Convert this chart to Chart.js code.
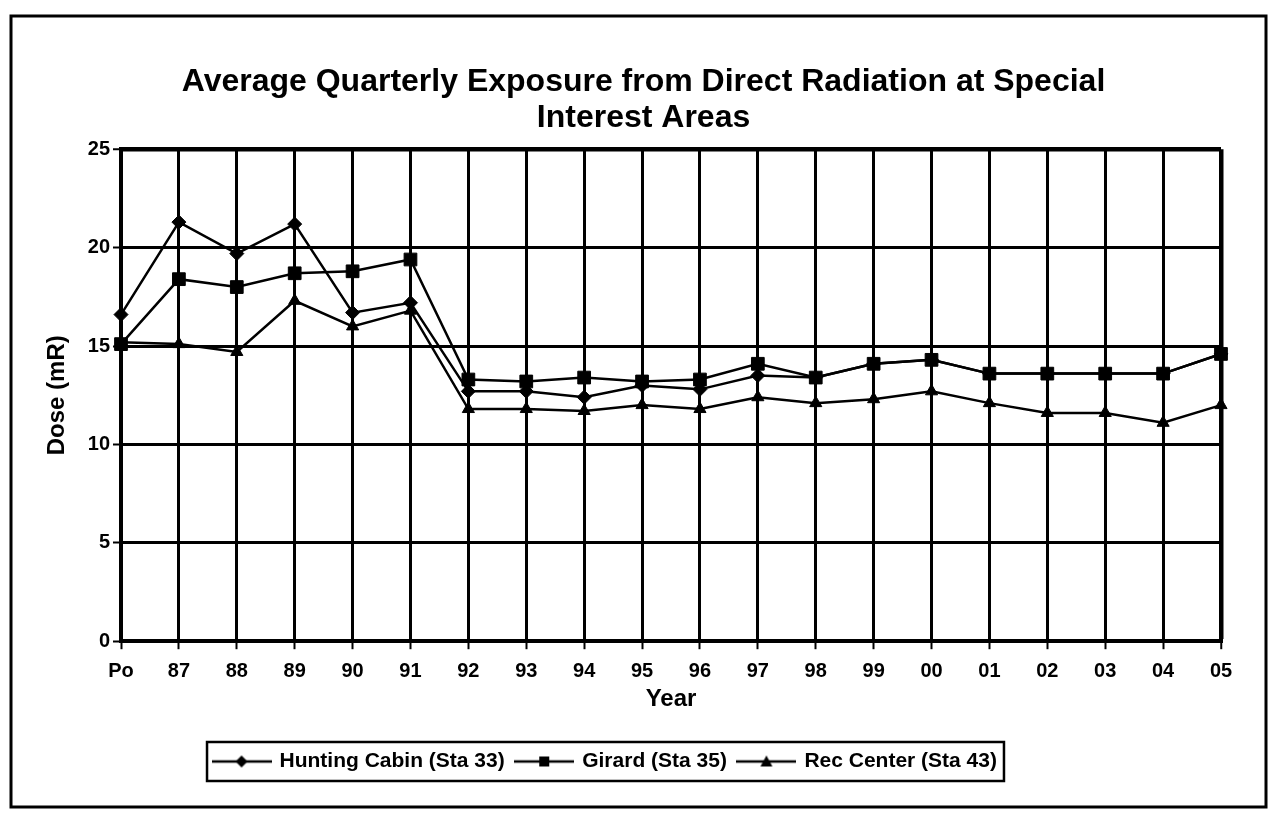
<!DOCTYPE html>
<html>
<head>
<meta charset="utf-8">
<title>Average Quarterly Exposure</title>
<script src="https://cdn.jsdelivr.net/npm/chart.js@4.4.1/dist/chart.umd.min.js"></script>
<style>
    html, body { margin: 0; padding: 0; background: #fff; }
    #grafico { display: block; }
</style>
</head>
<body>
<canvas id="grafico" width="1272" height="813"></canvas>
<script>
// dados
const anos = ['Po', '87', '88', '89', '90', '91', '92', '93', '94', '95',
    '96', '97', '98', '99', '00', '01', '02', '03', '04', '05'];
const huntingCabin = [16.6, 21.3, 19.7, 21.2, 16.7, 17.2, 12.7, 12.7, 12.4, 13.0,
    12.8, 13.5, 13.4, 14.1, 14.3, 13.6, 13.6, 13.6, 13.6, 14.6];
const girard = [15.1, 18.4, 18.0, 18.7, 18.8, 19.4, 13.3, 13.2, 13.4, 13.2,
    13.3, 14.1, 13.4, 14.1, 14.3, 13.6, 13.6, 13.6, 13.6, 14.6];
const recCenter = [15.2, 15.1, 14.7, 17.3, 16.0, 16.8, 11.8, 11.8, 11.7, 12.0,
    11.8, 12.4, 12.1, 12.3, 12.7, 12.1, 11.6, 11.6, 11.1, 12.0];
const doseTicks = [0, 5, 10, 15, 20, 25];

const fonte = "'Liberation Sans', Arial, sans-serif";

// icone da legenda: linha com o marcador no meio
function iconeLegenda(tipo) {
    const c = document.createElement('canvas');
    c.width = 60;
    c.height = 18;
    const g = c.getContext('2d');
    g.strokeStyle = 'black';
    g.fillStyle = 'black';
    g.lineWidth = 2.5;
    g.beginPath();
    g.moveTo(0, 9);
    g.lineTo(60, 9);
    g.stroke();
    g.beginPath();
    if (tipo == 'rectRot') {
        g.moveTo(30, 3); g.lineTo(36, 9); g.lineTo(30, 15); g.lineTo(24, 9);
    } else if (tipo == 'rect') {
        g.rect(25, 4, 10, 10);
    } else {
        g.moveTo(30, 3); g.lineTo(36, 14); g.lineTo(24, 14);
    }
    g.closePath();
    g.fill();
    return c;
}

const icones = [iconeLegenda('rectRot'), iconeLegenda('rect'), iconeLegenda('triangle')];

const moldura = {
    id: 'moldura',
    beforeDraw(chart) {
        const ctx = chart.ctx;
        ctx.save();
        ctx.fillStyle = 'white';
        ctx.fillRect(0, 0, chart.width, chart.height);
        ctx.strokeStyle = 'black';
        ctx.lineWidth = 3;
        ctx.strokeRect(11, 16, 1255, 791);
        ctx.restore();
    },
    afterLayout(chart) {
        // deslocar titulo e legenda como no original
        chart.titleBlock.left += 26;
        chart.titleBlock.right += 26;
        chart.legend.left -= 12;
        chart.legend.right -= 12;
    },
    afterDraw(chart) {
        const caixas = chart.legend.legendHitBoxes;
        if (!caixas || !caixas.length) return;
        let esq = Infinity, dir = -Infinity, topo = Infinity, base = -Infinity;
        caixas.forEach(function (b) {
            esq = Math.min(esq, b.left);
            dir = Math.max(dir, b.left + b.width);
            topo = Math.min(topo, b.top);
            base = Math.max(base, b.top + b.height);
        });
        const ctx = chart.ctx;
        ctx.save();
        ctx.strokeStyle = 'black';
        ctx.lineWidth = 2.5;
        ctx.strokeRect(esq - 7, topo - 9, dir - esq + 14, base - topo + 18);
        ctx.restore();
    }
};

new Chart(document.getElementById('grafico'), {
    type: 'line',
    data: {
        labels: anos,
        datasets: [
            {
                label: 'Hunting Cabin (Sta 33)',
                data: huntingCabin,
                pointStyle: 'rectRot',
                pointRadius: 7,
                order: 1
            },
            {
                label: 'Girard (Sta 35)',
                data: girard,
                pointStyle: 'rect',
                pointRadius: 9,
                order: 0
            },
            {
                label: 'Rec Center (Sta 43)',
                data: recCenter,
                pointStyle: 'triangle',
                pointRadius: 7,
                order: 2
            }
        ].map(function (d) {
            d.borderColor = 'black';
            d.backgroundColor = 'black';
            d.pointBackgroundColor = 'black';
            d.pointBorderColor = 'black';
            d.borderWidth = 2.5;
            d.pointBorderWidth = 1;
            d.tension = 0;
            return d;
        })
    },
    options: {
        responsive: false,
        animation: false,
        devicePixelRatio: 1,
        layout: {
            padding: { top: 30, left: 14, right: 51, bottom: 31 }
        },
        plugins: {
            tooltip: { enabled: false },
            title: {
                display: true,
                text: ['Average Quarterly Exposure from Direct Radiation at Special', 'Interest Areas'],
                color: 'black',
                font: { family: fonte, size: 32, weight: 'bold', lineHeight: 1.13 },
                padding: { top: 34, bottom: 13 }
            },
            legend: {
                position: 'bottom',
                labels: {
                    color: 'black',
                    font: { family: fonte, size: 21, weight: 'bold' },
                    usePointStyle: true,
                    pointStyleWidth: 55,
                    padding: 12,
                    generateLabels: function (chart) {
                        return chart.data.datasets.map(function (d, i) {
                            return {
                                text: d.label,
                                datasetIndex: i,
                                pointStyle: icones[i],
                                fillStyle: 'black',
                                strokeStyle: 'black',
                                fontColor: 'black',
                                lineWidth: 0
                            };
                        });
                    }
                }
            }
        },
        scales: {
            x: {
                offset: false,
                grid: {
                    color: 'black',
                    lineWidth: function (c) { return c.index == anos.length - 1 ? 4.5 : 3; },
                    tickLength: 8,
                    tickColor: 'black',
                    tickWidth: 2
                },
                border: { color: 'black', width: 4 },
                ticks: {
                    color: 'black',
                    font: { family: fonte, size: 20, weight: 'bold', lineHeight: 1 },
                    autoSkip: false,
                    maxRotation: 0,
                    padding: 12
                },
                title: {
                    display: true,
                    text: 'Year',
                    color: 'black',
                    font: { family: fonte, size: 24, weight: 'bold' },
                    padding: { top: -8, bottom: 25 }
                }
            },
            y: {
                min: 0,
                max: 25,
                afterBuildTicks: function (scale) {
                    scale.ticks = doseTicks.map(function (v) { return { value: v }; });
                },
                afterFit: function (scale) {
                    scale.width = 107;
                },
                grid: {
                    color: 'black',
                    lineWidth: function (c) { return c.tick && c.tick.value == 25 ? 4.5 : 3; },
                    tickLength: 8,
                    tickColor: 'black',
                    tickWidth: 2
                },
                border: { color: 'black', width: 4 },
                ticks: {
                    color: 'black',
                    font: { family: fonte, size: 20, weight: 'bold' },
                    padding: 3
                },
                title: {
                    display: true,
                    text: 'Dose (mR)',
                    color: 'black',
                    font: { family: fonte, size: 24, weight: 'bold' },
                    padding: { top: 29, bottom: 0 }
                }
            }
        }
    },
    plugins: [moldura]
});
</script>
</body>
</html>
